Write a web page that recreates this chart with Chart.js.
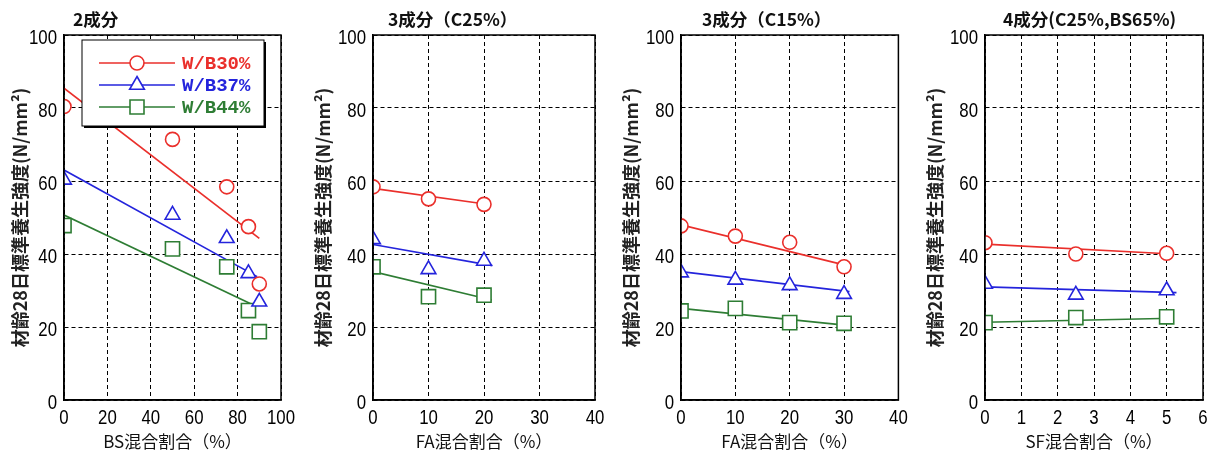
<!DOCTYPE html>
<html>
<head>
<meta charset="utf-8">
<script src="https://cdn.jsdelivr.net/npm/chart.js@4.4.0/dist/chart.umd.min.js"></script>
<style>
  body { margin: 0; background: #fff; width: 1216px; height: 453px; position: relative; overflow: hidden; }
  .panel { position: absolute; top: 0; height: 453px; }
</style>
</head>
<body>
<div class="panel" style="left:0;width:300px"><canvas id="c1"></canvas></div>
<div class="panel" style="left:300px;width:310px"><canvas id="c2"></canvas></div>
<div class="panel" style="left:610px;width:300px"><canvas id="c3"></canvas></div>
<div class="panel" style="left:910px;width:306px"><canvas id="c4"></canvas></div>
<script>
// 系列
const seriesNames = ['W/B30%', 'W/B37%', 'W/B44%'];
const yTicks = [0, 20, 40, 60, 80, 100];

// 2成分 (BS)
const bsX = [0, 50, 75, 85, 90];
const bsWB30 = [80.4, 71.4, 58.4, 47.5, 31.8];
const bsWB37 = [60.3, 50.7, 44.3, 34.7, 26.9];
const bsWB44 = [47.8, 41.4, 36.5, 24.5, 18.7];
const bsFitX = [[0, 90], [0, 89], [0, 87]];
const bsFitY = [[85.4, 44.3], [63.0, 33.8], [50.7, 26.1]];

// 3成分 (C25%)
const fa25X = [0, 10, 20];
const fa25WB30 = [58.4, 55.1, 53.6];
const fa25WB37 = [44.0, 35.8, 38.1];
const fa25WB44 = [36.5, 28.3, 28.7];
const fa25FitX = [[0, 20.2], [0, 21.5], [0, 21.4]];
const fa25FitY = [[58.0, 53.7], [42.6, 36.8], [35.2, 27.4]];

// 3成分 (C15%)
const fa15X = [0, 10, 20, 30];
const fa15WB30 = [47.7, 44.9, 43.2, 36.5];
const fa15WB37 = [34.9, 32.9, 31.4, 29.0];
const fa15WB44 = [24.4, 25.1, 21.2, 21.0];
const fa15FitX = [[0, 30], [0, 31], [0, 31]];
const fa15FitY = [[48.0, 37.0], [35.2, 29.7], [25.1, 20.4]];

// 4成分 (SF)
const sfX = [0, 2.5, 5];
const sfWB30 = [43.1, 40.0, 40.2];
const sfWB37 = [31.8, 28.8, 30.0];
const sfWB44 = [21.2, 22.6, 22.8];
const sfFitX = [[0, 5.15], [0, 5.27], [0, 5.17]];
const sfFitY = [[42.7, 40.0], [31.0, 29.4], [21.3, 22.4]];

const colors = ['#ea2f2b', '#2424dc', '#2e7d34'];
const styles = ['circle', 'triangle', 'rect'];
const radii = [7, 8.5, 10];

const cjk = "'Noto Sans CJK JP', 'Noto Sans', sans-serif";

function pairs(xs, ys) {
  return xs.map((x, i) => ({ x: x, y: ys[i] }));
}

// 細い数字（横方向に縮めて描く）
function narrowText(ctx, text, x, y, align) {
  const sx = 0.82;
  ctx.save();
  ctx.font = '20.5px "Liberation Sans", Arial, sans-serif';
  ctx.textBaseline = 'alphabetic';
  ctx.textAlign = align;
  ctx.translate(x, y);
  ctx.scale(sx, 1);
  ctx.fillText(text, 0, 0);
  ctx.restore();
}

// 枠・目盛ラベル・タイトル
const framePlugin = {
  id: 'frame',
  afterDraw(chart, args, opts) {
    const { ctx, chartArea: a, scales } = chart;
    ctx.save();
    ctx.strokeStyle = '#000';
    ctx.lineWidth = 1.5;
    ctx.strokeRect(a.left, a.top, a.right - a.left, a.bottom - a.top);
    ctx.fillStyle = '#000';
    scales.y.ticks.forEach(t => {
      narrowText(ctx, String(t.value), a.left - 7, scales.y.getPixelForValue(t.value) + 9, 'right');
    });
    scales.x.ticks.forEach(t => {
      narrowText(ctx, String(t.value), scales.x.getPixelForValue(t.value), a.bottom + 24, 'center');
    });
    ctx.fillStyle = '#111';
    ctx.font = 'bold 17.5px ' + cjk;
    ctx.textBaseline = 'middle';
    ctx.fillText(opts.title, a.left + opts.titleOff, 19);
    ctx.restore();
  }
};

// 凡例（グラフ内）
const legendPlugin = {
  id: 'innerLegend',
  afterDraw(chart, args, opts) {
    if (!opts.show) return;
    const { ctx, chartArea: a } = chart;
    const bx = a.left + 18, by = a.top + 5, bw = 182, bh = 86;
    ctx.save();
    ctx.fillStyle = '#000';
    ctx.fillRect(bx + 2, by + 2, bw, bh);
    ctx.fillStyle = '#fff';
    ctx.fillRect(bx, by, bw, bh);
    ctx.strokeStyle = '#000';
    ctx.lineWidth = 1;
    ctx.strokeRect(bx, by, bw, bh);
    seriesNames.forEach((name, i) => {
      const y = by + 23 + i * 22;
      ctx.strokeStyle = colors[i];
      ctx.lineWidth = 1.6;
      ctx.beginPath();
      ctx.moveTo(bx + 17, y);
      ctx.lineTo(bx + 93, y);
      ctx.stroke();
      const cx = bx + 55;
      ctx.fillStyle = '#fff';
      ctx.beginPath();
      if (styles[i] === 'circle') {
        ctx.arc(cx, y, 7, 0, Math.PI * 2);
      } else if (styles[i] === 'triangle') {
        const r = 8.5;
        ctx.moveTo(cx, y - r);
        ctx.lineTo(cx + r * Math.sin(Math.PI / 3), y + r / 2);
        ctx.lineTo(cx - r * Math.sin(Math.PI / 3), y + r / 2);
        ctx.closePath();
      } else {
        ctx.rect(cx - 7, y - 7, 14, 14);
      }
      ctx.fill();
      ctx.stroke();
      ctx.fillStyle = colors[i];
      ctx.font = 'bold 19px "Liberation Mono", "DejaVu Sans Mono", monospace';
      ctx.textBaseline = 'middle';
      ctx.fillText(name, bx + 100, y + 1);
    });
    ctx.restore();
  }
};

function makeChart(id, cfg) {
  const datasets = [];
  cfg.series.forEach((ys, i) => {
    datasets.push({
      label: seriesNames[i],
      data: pairs(cfg.x, ys),
      pointStyle: styles[i],
      pointRadius: radii[i],
      pointHoverRadius: radii[i],
      pointBorderWidth: 1.6,
      borderColor: colors[i],
      backgroundColor: '#fff',
      showLine: false,
      order: 0
    });
  });
  cfg.fitX.forEach((xs, i) => {
    datasets.push({
      label: seriesNames[i] + ' fit',
      data: pairs(xs, cfg.fitY[i]),
      showLine: true,
      pointRadius: 0,
      borderColor: colors[i],
      borderWidth: 1.7,
      fill: false,
      order: 1
    });
  });

  new Chart(document.getElementById(id), {
    type: 'scatter',
    data: { datasets: datasets },
    plugins: [framePlugin, legendPlugin],
    options: {
      responsive: true,
      maintainAspectRatio: false,
      animation: false,
      layout: { padding: { top: 35, right: cfg.rightPad, left: 0, bottom: 0 } },
      plugins: {
        legend: { display: false },
        tooltip: { enabled: false },
        frame: { title: cfg.title, titleOff: cfg.titleOff },
        innerLegend: { show: !!cfg.legend }
      },
      scales: {
        x: {
          type: 'linear',
          min: 0,
          max: cfg.xMax,
          ticks: { stepSize: cfg.xStep, display: false },
          grid: { color: '#000', lineWidth: 1, drawTicks: false },
          border: { display: true, color: '#000', width: 1.5, dash: [4, 3] },
          title: { display: true, text: cfg.xTitle, color: '#111', font: { family: cjk, size: 17, weight: 'normal' }, padding: { top: 0, bottom: 1 } },
          afterFit(s) { s.height = 53; }
        },
        y: {
          type: 'linear',
          min: 0,
          max: 100,
          afterBuildTicks(s) { s.ticks = yTicks.map(v => ({ value: v })); },
          ticks: { display: false },
          grid: { color: '#000', lineWidth: 1, drawTicks: false },
          border: { display: true, color: '#000', width: 1.5, dash: [4, 3] },
          title: { display: true, text: '材齢28日標準養生強度(N/mm²)', color: '#222', font: { family: cjk, size: 18, weight: 'bold' }, padding: { top: cfg.yTitlePad - 1, bottom: 0 } },
          afterFit(s) { s.width = cfg.yAxisW; }
        }
      }
    }
  });
}

makeChart('c1', {
  title: '2成分', titleOff: 9, xTitle: 'BS混合割合（%）', xMax: 100, xStep: 20,
  x: bsX, series: [bsWB30, bsWB37, bsWB44], fitX: bsFitX, fitY: bsFitY,
  yAxisW: 64, rightPad: 19, yTitlePad: 10, legend: true
});
makeChart('c2', {
  title: '3成分（C25%）', titleOff: 15, xTitle: 'FA混合割合（%）', xMax: 40, xStep: 10,
  x: fa25X, series: [fa25WB30, fa25WB37, fa25WB44], fitX: fa25FitX, fitY: fa25FitY,
  yAxisW: 73, rightPad: 15, yTitlePad: 13
});
makeChart('c3', {
  title: '3成分（C15%）', titleOff: 21, xTitle: 'FA混合割合（%）', xMax: 40, xStep: 10,
  x: fa15X, series: [fa15WB30, fa15WB37, fa15WB44], fitX: fa15FitX, fitY: fa15FitY,
  yAxisW: 71, rightPad: 9, yTitlePad: 11
});
makeChart('c4', {
  title: '4成分(C25%,BS65%)', titleOff: 18, xTitle: 'SF混合割合（%）', xMax: 6, xStep: 1,
  x: sfX, series: [sfWB30, sfWB37, sfWB44], fitX: sfFitX, fitY: sfFitY,
  yAxisW: 75, rightPad: 13, yTitlePad: 15
});
</script>
</body>
</html>
